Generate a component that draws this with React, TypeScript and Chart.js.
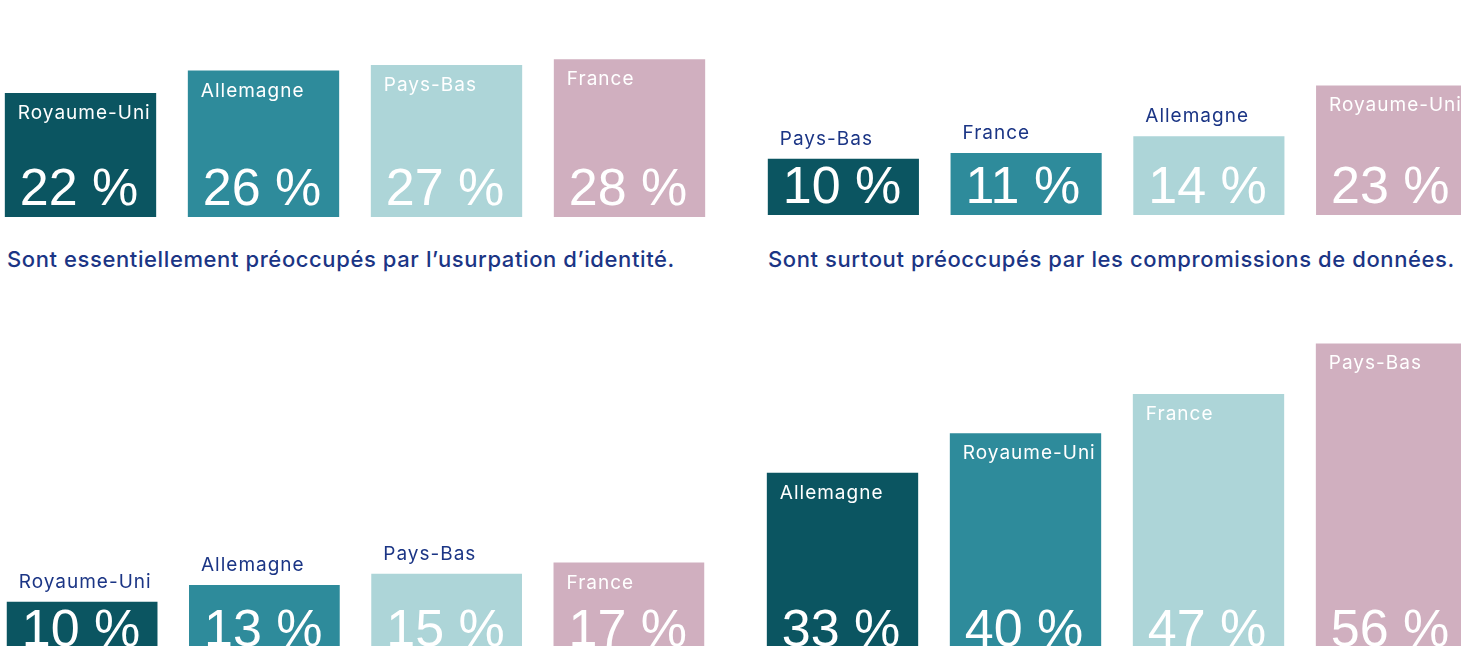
import React, { useEffect, useRef } from "react";
import { Chart, registerables } from "chart.js";

Chart.register(...registerables);

// ---- Data ----
const barColors = ["#0b5561", "#2e8b9b", "#add5d8", "#d0afbf"];
const navy = "#1b3585";

const identityCountries = ["Royaume-Uni", "Allemagne", "Pays-Bas", "France"];
const identityValues = [22, 26, 27, 28];

const breachCountries = ["Pays-Bas", "France", "Allemagne", "Royaume-Uni"];
const breachValues = [10, 11, 14, 23];

const lowerLeftCountries = ["Royaume-Uni", "Allemagne", "Pays-Bas", "France"];
const lowerLeftValues = [10, 13, 15, 17];

const lowerRightCountries = ["Allemagne", "Royaume-Uni", "France", "Pays-Bas"];
const lowerRightValues = [33, 40, 47, 56];

const captionIdentity = "Sont essentiellement préoccupés par l’usurpation d’identité.";
const captionBreach = "Sont surtout préoccupés par les compromissions de données.";

const insideThreshold = 16;

const barLabelsPlugin = {
  id: "barLabels",
  afterDatasetsDraw(chart: any) {
    const ctx = chart.ctx as CanvasRenderingContext2D;
    const meta = chart.getDatasetMeta(0);
    const ds = chart.data.datasets[0];
    meta.data.forEach((bar: any, i: number) => {
      const { x, y, base, width } = bar.getProps(["x", "y", "base", "width"], true);
      const left = x - width / 2;
      const v = ds.data[i] as number;
      const name = chart.data.labels[i] as string;
      ctx.save();
      ctx.textAlign = "left";
      ctx.textBaseline = "alphabetic";
      ctx.font = "19px Inter";
      (ctx as any).letterSpacing = "1px";
      if (v >= insideThreshold) {
        ctx.fillStyle = "#ffffff";
        ctx.fillText(name, left + 13, y + 26);
      } else {
        ctx.fillStyle = navy;
        ctx.fillText(name, left + 12, y - 14);
      }
      (ctx as any).letterSpacing = "0px";
      ctx.font = "52px 'Liberation Sans'";
      ctx.fillStyle = "#ffffff";
      ctx.fillText(`${v} %`, left + 15, base - 12);
      ctx.restore();
    });
  },
};

type PanelProps = {
  left: number;
  top: number;
  width: number;
  height: number;
  max: number;
  labels: string[];
  values: number[];
};

function Panel({ left, top, width, height, max, labels, values }: PanelProps) {
  const ref = useRef<HTMLCanvasElement | null>(null);
  useEffect(() => {
    if (!ref.current) return;
    const chart = new Chart(ref.current, {
      type: "bar",
      data: {
        labels,
        datasets: [
          {
            data: values,
            backgroundColor: barColors,
            borderWidth: 0,
            categoryPercentage: 1,
            barPercentage: 0.827,
          },
        ],
      },
      options: {
        animation: false,
        responsive: false,
        maintainAspectRatio: false,
        devicePixelRatio: 1,
        layout: { padding: 0 },
        plugins: {
          legend: { display: false },
          tooltip: { enabled: false },
          title: { display: false },
        },
        scales: {
          x: { display: false, grid: { display: false } },
          y: { display: false, min: 0, max, grid: { display: false } },
        },
      },
      plugins: [barLabelsPlugin],
    });
    return () => chart.destroy();
  }, []);
  return (
    <canvas
      ref={ref}
      width={width}
      height={height}
      style={{ position: "absolute", left, top, width, height }}
    />
  );
}

const captionStyle: React.CSSProperties = {
  position: "absolute",
  fontFamily: "Inter, sans-serif",
  fontSize: 22,
  fontWeight: 500,
  lineHeight: "22px",
  letterSpacing: "0.6px",
  color: navy,
  whiteSpace: "nowrap",
  margin: 0,
};

export default function App() {
  return (
    <div
      style={{
        position: "fixed",
        left: 0,
        top: 0,
        width: 1461,
        height: 646,
        overflow: "hidden",
        background: "#ffffff",
      }}
    >
      <Panel left={-11} top={3} width={732} height={214} max={38} labels={identityCountries} values={identityValues} />
      <Panel left={752} top={1} width={731} height={214} max={38} labels={breachCountries} values={breachValues} />
      <Panel left={-9} top={321} width={729} height={337} max={60} labels={lowerLeftCountries} values={lowerLeftValues} />
      <Panel left={751} top={321} width={732} height={337} max={60} labels={lowerRightCountries} values={lowerRightValues} />
      <div style={{ ...captionStyle, left: 7, top: 248 }}>{captionIdentity}</div>
      <div style={{ ...captionStyle, left: 768, top: 248 }}>{captionBreach}</div>
    </div>
  );
}
